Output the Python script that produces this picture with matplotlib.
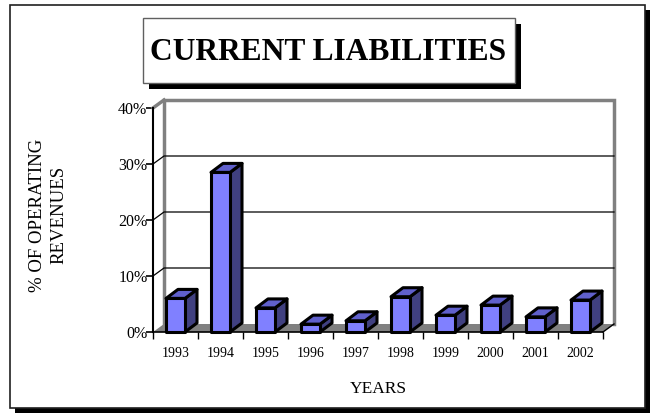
import numpy as np
import matplotlib
matplotlib.use("Agg")
import matplotlib.pyplot as plt
from matplotlib.patches import Rectangle, Polygon

years = ["1993", "1994", "1995", "1996", "1997", "1998", "1999", "2000", "2001", "2002"]
pct_of_revenues = [6.0, 28.5, 4.3, 1.4, 2.0, 6.3, 3.0, 4.8, 2.7, 5.7]
y_ticks = [0, 10, 20, 30, 40]
y_tick_labels = ["0%", "10%", "20%", "30%", "40%"]

W, H = 657, 417
SERIF = ["Liberation Serif", "DejaVu Serif"]


def fx(x):
    return x / W


def fy(y):
    return 1 - y / H


fig = plt.figure(figsize=(W / 100, H / 100), dpi=100)
fig.patch.set_facecolor("white")

# outer frame with drop shadow
fig.add_artist(Rectangle((fx(15), fy(413)), fx(645 - 10), (408 - 5) / H,
                         transform=fig.transFigure, facecolor="black", edgecolor="none", zorder=0))
fig.add_artist(Rectangle((fx(10), fy(408)), fx(645 - 10), (408 - 5) / H,
                         transform=fig.transFigure, facecolor="white", edgecolor="#202020",
                         lw=1.2, zorder=0.5))

# title box with drop shadow
fig.add_artist(Rectangle((fx(149), fy(89)), fx(515 - 143), (83 - 18) / H,
                         transform=fig.transFigure, facecolor="black", edgecolor="none", zorder=2))
fig.add_artist(Rectangle((fx(143), fy(83)), fx(515 - 143), (83 - 18) / H,
                         transform=fig.transFigure, facecolor="white", edgecolor="#606060",
                         lw=1.0, zorder=2.5))
fig.text(fx(328), fy(53), "CURRENT LIABILITIES", family=SERIF, weight="bold",
         fontsize=22.7, ha="center", va="center", zorder=3)

# plot area: front plane from x=153..603 px, y=332..108 px
ax = fig.add_axes([fx(153), fy(332), fx(603 - 153), (332 - 108) / H])
ax.set_xlim(0, len(years))
ax.set_ylim(0, 40)
ax.patch.set_visible(False)
ax.set_zorder(1)

n = len(years)
DX = 11 / 45.0      # depth offset in category units
DY = 8 / 5.6        # depth offset in percent units
wall_gray = "#808080"

# back wall
ax.add_patch(Rectangle((DX, DY), n, 40, facecolor="white", edgecolor="none",
                       clip_on=False, zorder=1))
ax.plot([DX, DX, n + DX, n + DX], [DY, 40 + DY, 40 + DY, DY], color=wall_gray,
        lw=2.5, clip_on=False, zorder=2, solid_joinstyle="miter")
# side wall top edge
ax.plot([0, DX], [40, 40 + DY], color=wall_gray, lw=2.5, clip_on=False, zorder=2)

# gridlines on back wall and side wall
for v in y_ticks[1:-1]:
    ax.plot([0, DX, n + DX], [v, v + DY, v + DY], color="black", lw=0.9,
            clip_on=False, zorder=2)

# floor
ax.add_patch(Polygon([(0, 0), (n, 0), (n + DX, DY), (DX, DY)], closed=True,
                     facecolor=wall_gray, edgecolor="none", clip_on=False, zorder=3))
ax.plot([n, n + DX], [0, DY], color="black", lw=1.0, clip_on=False, zorder=3)

# 3d columns
bw = 19 / 45.0
bdx = 12 / 45.0
bdy = 9 / 5.6
front_c = "#8080FF"
top_c = "#6060CC"
side_c = "#404080"
for i, v in enumerate(pct_of_revenues):
    x0 = i + (1 - bw) / 2
    x1 = x0 + bw
    kw = dict(closed=True, edgecolor="black", lw=2.2, joinstyle="round",
              clip_on=False, zorder=5)
    ax.add_patch(Polygon([(x1, 0), (x1 + bdx, bdy), (x1 + bdx, v + bdy), (x1, v)],
                         facecolor=side_c, **kw))
    ax.add_patch(Polygon([(x0, v), (x1, v), (x1 + bdx, v + bdy), (x0 + bdx, v + bdy)],
                         facecolor=top_c, **kw))
    ax.add_patch(Polygon([(x0, 0), (x1, 0), (x1, v), (x0, v)],
                         facecolor=front_c, **kw))

# axes lines and ticks
for side in ["top", "right"]:
    ax.spines[side].set_visible(False)
ax.spines["left"].set_color("black")
ax.spines["left"].set_linewidth(1.5)
ax.spines["bottom"].set_color("black")
ax.spines["bottom"].set_linewidth(1.2)
ax.spines["left"].set_zorder(6)
ax.spines["bottom"].set_zorder(4)

ax.set_yticks(y_ticks)
ax.set_yticklabels(y_tick_labels, family=SERIF, fontsize=11.5)
ax.tick_params(axis="y", direction="out", length=5, width=1.2, pad=-1, colors="black")

ax.set_xticks(np.arange(n) + 0.5)
ax.set_xticklabels(years, family=SERIF, fontsize=10)
ax.set_xticks(np.arange(n + 1), minor=True)
ax.tick_params(axis="x", which="major", length=0, pad=11)
ax.tick_params(axis="x", which="minor", direction="out", length=5, width=1.0)

fig.text(fx(48), fy(215), "% OF OPERATING\nREVENUES", family=SERIF, fontsize=13.5,
         rotation=90, ha="center", va="center", multialignment="center", linespacing=1.35)
fig.text(fx(378), fy(389), "YEARS", family=SERIF, fontsize=12.5, ha="center", va="center")

fig.savefig("out.png", dpi=100)
